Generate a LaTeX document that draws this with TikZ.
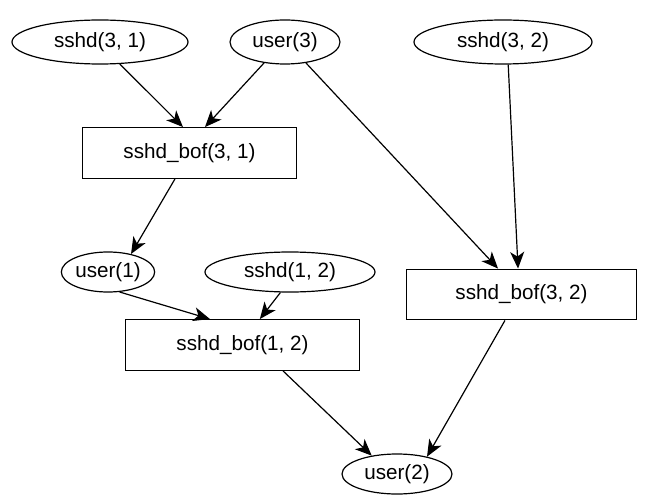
\documentclass[tikz,border=0pt]{standalone}
\usepackage{fontspec}
\setmainfont{Liberation Sans}
\usetikzlibrary{arrows.meta,shapes.geometric}

\begin{document}
\begin{tikzpicture}[x=0.75pt,y=-0.75pt,line width=0.9pt,
  every node/.style={font=\fontsize{15.5}{18}\selectfont},
  evt/.style={draw,ellipse,inner sep=0pt,minimum height=33pt},
  act/.style={draw,rectangle,inner sep=0pt,minimum height=38pt},
  edge/.style={-{Stealth[length=12.5pt,width=10.5pt,inset=3.5pt]}}]
\useasboundingbox (0,0) rectangle (645,495);
% top row
\node [evt,minimum width=132pt] (s31) at (100,42) {sshd(3, 1)};
\node [evt,minimum width=82.5pt] (u3) at (285,42) {user(3)};
\node [evt,minimum width=133.5pt] (s32) at (503,42) {sshd(3, 2)};
% exploits and privileges
\node [act,minimum width=160pt] (b31) at (189.5,153) {sshd\_bof(3, 1)};
\node [evt,minimum width=70pt,minimum height=30pt] (u1) at (108,272) {user(1)};
\node [evt,minimum width=127.5pt,minimum height=30pt] (s12) at (290,272) {sshd(1, 2)};
\node [act,minimum width=173pt] (b32) at (521.5,294.5) {sshd\_bof(3, 2)};
\node [act,minimum width=176pt] (b12) at (242.5,345) {sshd\_bof(1, 2)};
\node [evt,minimum width=82.5pt,minimum height=30pt] (u2) at (397,474) {user(2)};
% edges
\draw [edge] (s31.-48) -- ([xshift=-4.9pt]b31.north);
\draw [edge] (u3.-135) -- ([xshift=11.6pt]b31.north);
\draw [edge] (u3.-45) -- ([xshift=-17.6pt]b32.north);
\draw [edge] (s32.-77) -- ([xshift=-2.6pt]b32.north);
\draw [edge] ([xshift=-10.9pt]b31.south) -- (u1.38);
\draw [edge] (u1.-60) -- ([xshift=-24.4pt]b12.north);
\draw [edge] (s12.-115) -- ([xshift=13pt]b12.north);
\draw [edge] ([xshift=30.4pt]b12.south) -- (u2.144);
\draw [edge] ([xshift=-12.4pt]b32.south) -- (u2.30);
\end{tikzpicture}
\end{document}
